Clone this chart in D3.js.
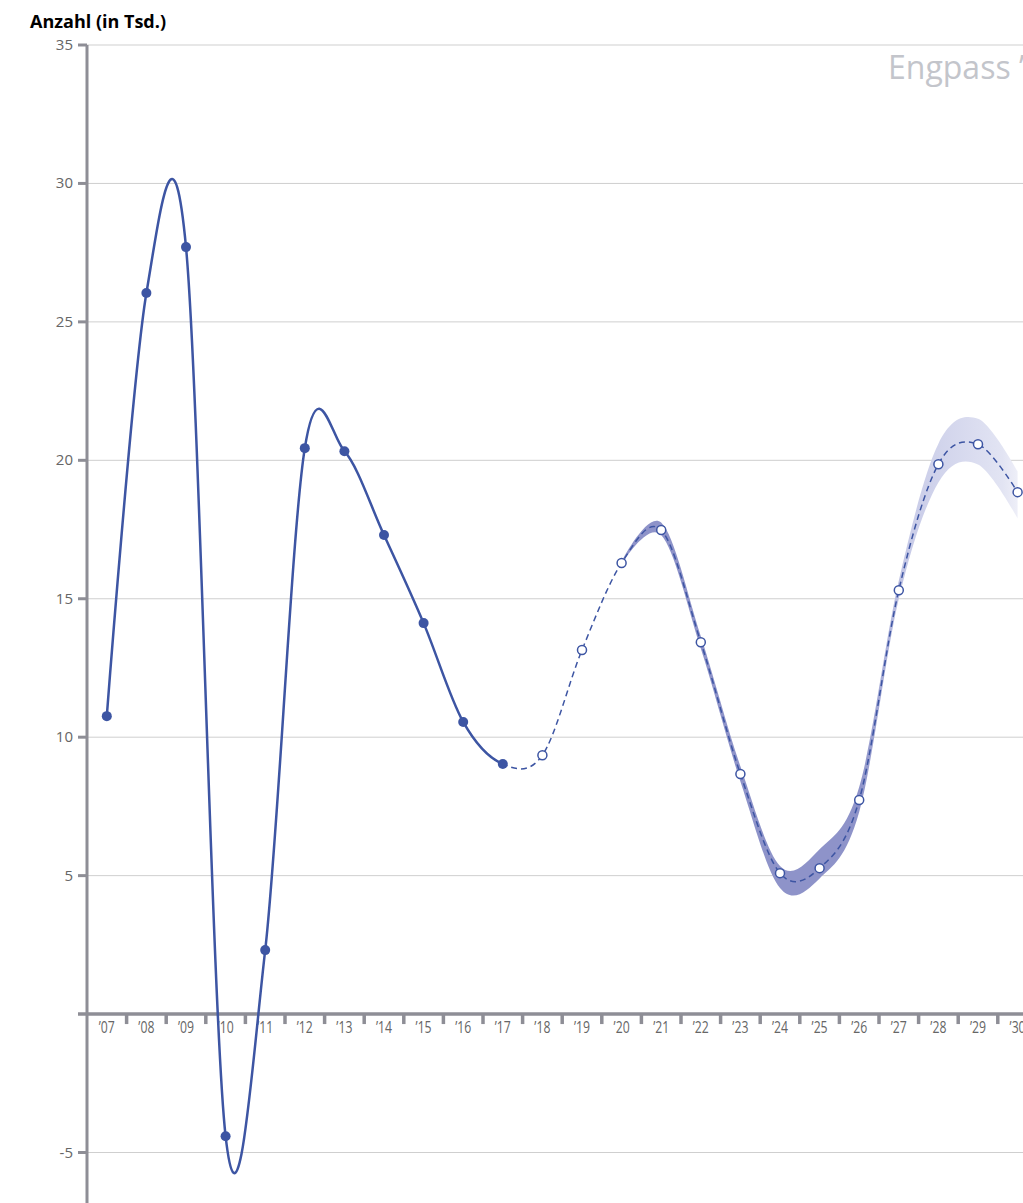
<!DOCTYPE html><html><head><meta charset="utf-8">
<script src="https://cdn.jsdelivr.net/npm/d3@7"></script>
<style>body{margin:0;background:#fff;font-family:"Open Sans",sans-serif}</style></head><body>
<svg id="c" width="1023" height="1203"></svg>
<script>
const years=["’07","’08","’09","’10","’11","’12","’13","’14","’15","’16","’17","’18","’19","’20","’21","’22","’23","’24","’25","’26","’27","’28","’29","’30"];
const values=[10.76,26.04,27.7,-4.41,2.31,20.44,20.33,17.3,14.12,10.55,9.03,9.35,13.15,16.29,17.48,13.43,8.67,5.09,5.27,7.73,15.31,19.86,20.58,18.85];
const bandYears=["’20","’21","’22","’23","’24","’25","’26","’27","’28","’29","’30"];
const bandUpper=[16.35,17.75,13.65,8.95,5.35,5.95,8.2,15.65,20.6,21.5,19.6];
const bandLower=[16.25,17.3,13.2,8.4,4.55,4.9,7.3,15.0,19.2,19.85,17.9];
const yTicks=[35,30,25,20,15,10,5,-5];
const lastActual="’17";

const svg=d3.select("#c");
const x=d3.scaleBand().domain(years).range([87,87+39.6*24]);
const y=d3.scaleLinear().domain([-5,35]).range([1152.5,45]);
const cx=d=>x(d)+x.bandwidth()/2;
svg.append("g").selectAll("line").data(yTicks).join("line")
 .attr("x1",87).attr("x2",1023).attr("y1",d=>y(d)).attr("y2",d=>y(d)).attr("stroke","#cfcfcf").attr("stroke-width",1);
svg.append("text").attr("x",888).attr("y",79).attr("font-size",32).attr("fill","#c3c5cb").text("Engpass ’30");
const defs=svg.append("defs");
const g=defs.append("linearGradient").attr("id","bg").attr("gradientUnits","userSpaceOnUse")
 .attr("x1",cx("’26")).attr("x2",cx("’30")+10).attr("y1",0).attr("y2",0);
g.append("stop").attr("offset",0).attr("stop-color","#8e93c9");
g.append("stop").attr("offset",0.3).attr("stop-color","#c9cce8");
g.append("stop").attr("offset",0.85).attr("stop-color","#e2e4f3");
g.append("stop").attr("offset",1).attr("stop-color","#f6f6fb");
const curve=d3.curveCatmullRom.alpha(0);
svg.append("path").datum(bandYears.map((d,i)=>[d,bandUpper[i],bandLower[i]]))
 .attr("d",d3.area().x(d=>cx(d[0])).y0(d=>y(d[2])).y1(d=>y(d[1])).curve(curve)).attr("fill","url(#bg)");
svg.append("line").attr("x1",87).attr("x2",87).attr("y1",45).attr("y2",1203).attr("stroke","#8e8e96").attr("stroke-width",3);
svg.append("line").attr("x1",78).attr("x2",1023).attr("y1",y(0)).attr("y2",y(0)).attr("stroke","#8e8e96").attr("stroke-width",3.5);
svg.append("g").selectAll("line").data(yTicks).join("line").attr("x1",78).attr("x2",87).attr("y1",d=>y(d)).attr("y2",d=>y(d)).attr("stroke","#8e8e96").attr("stroke-width",3);
svg.append("g").selectAll("text").data(yTicks).join("text").attr("x",73).attr("y",d=>y(d)+5).attr("text-anchor","end").attr("font-size",15).attr("fill","#666").text(d=>d);
svg.append("g").selectAll("line").data(years).join("line").attr("x1",d=>x(d)+x.bandwidth()).attr("x2",d=>x(d)+x.bandwidth()).attr("y1",y(0)).attr("y2",y(0)+10).attr("stroke","#8e8e96").attr("stroke-width",3.5);
svg.append("g").selectAll("text").data(years).join("text").attr("x",d=>cx(d)).attr("y",y(0)+19).attr("text-anchor","middle").attr("font-size",17).attr("fill","#666").attr("transform",d=>`translate(${cx(d)},0) scale(0.72,1) translate(${-cx(d)},0)`).text(d=>d);
svg.append("text").attr("x",30).attr("y",28).attr("font-size",18).attr("font-weight","bold").attr("fill","#000").text("Anzahl (in Tsd.)");
const pts=years.map((d,i)=>[cx(d),y(values[i])]);
const ld=d3.line().curve(curve)(pts);
defs.append("clipPath").attr("id","ca").append("rect").attr("x",0).attr("y",0).attr("width",cx(lastActual)).attr("height",1203);
defs.append("clipPath").attr("id","cb").append("rect").attr("x",cx(lastActual)).attr("y",0).attr("width",2000).attr("height",1203);
svg.append("path").attr("d",ld).attr("fill","none").attr("stroke","#3d55a3").attr("stroke-width",2.5).attr("clip-path","url(#ca)");
svg.append("path").attr("d",ld).attr("fill","none").attr("stroke","#3d55a3").attr("stroke-width",1.5).attr("stroke-dasharray","6,4").attr("clip-path","url(#cb)");
const li=years.indexOf(lastActual);
svg.append("g").selectAll("circle").data(years.map((d,i)=>[d,values[i],i])).join("circle")
 .attr("cx",d=>cx(d[0])).attr("cy",d=>y(d[1])).attr("r",d=>d[2]<=li?5:4.5)
 .attr("fill",d=>d[2]<=li?"#3d55a3":"#fff").attr("stroke","#3d55a3").attr("stroke-width",d=>d[2]<=li?0:1.5);
</script></body></html>
